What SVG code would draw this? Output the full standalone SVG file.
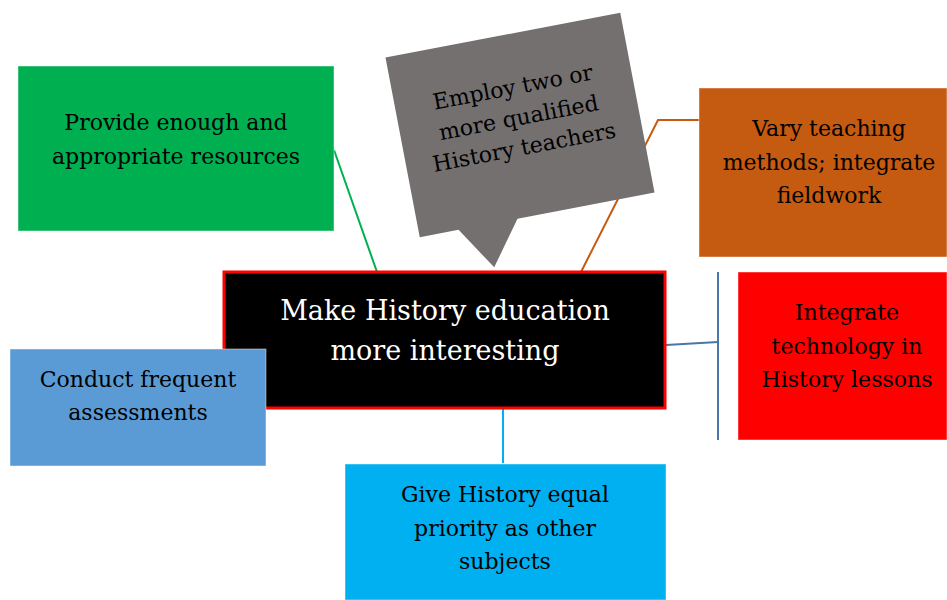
<svg xmlns="http://www.w3.org/2000/svg" width="947" height="600" viewBox="0 0 947 600">
  <style>
    .lbl { font-family: "DejaVu Serif", "Liberation Serif", serif; font-size: 22px; fill: #000; text-anchor: middle; }
    .main { font-family: "DejaVu Serif", "Liberation Serif", serif; font-size: 27px; fill: #fff; text-anchor: middle; }
    .box { stroke: #ffffff; stroke-opacity: 0.45; stroke-width: 1; }
    .link { fill: none; stroke-width: 2; }
  </style>
  <rect width="947" height="600" fill="#fff"/>

  <!-- connectors -->
  <g id="connectors">
    <line class="link" x1="334" y1="150" x2="377" y2="272" stroke="#00B050"/>
    <polyline class="link" points="581,272 658,120 699,120" stroke="#C55A11"/>
    <line class="link" x1="666" y1="345" x2="718" y2="342" stroke="#4A76A8"/>
    <line class="link" x1="718" y1="272" x2="718" y2="440" stroke="#4A76A8"/>
    <line class="link" x1="503" y1="408" x2="503" y2="463" stroke="#00B0F0"/>
  </g>

  <g id="resources">
    <rect class="box" x="18" y="66" width="316" height="165" fill="#00B050"/>
    <text class="lbl" x="176" y="130">Provide enough and</text>
    <text class="lbl" x="176" y="164">appropriate resources</text>
  </g>

  <g id="teachers" transform="translate(520,125) rotate(-10.8)">
    <path d="M-119.5,-91.5 H119.5 V91.5 H-20 L-52,135 L-80,91.5 H-119.5 Z" fill="#747070"/>
    <text class="lbl" x="0" y="-31">Employ two or</text>
    <text class="lbl" x="0" y="0">more qualified</text>
    <text class="lbl" x="0" y="30">History teachers</text>
  </g>

  <g id="methods">
    <rect class="box" x="699" y="88" width="248" height="169" fill="#C55A11"/>
    <text class="lbl" x="829" y="136">Vary teaching</text>
    <text class="lbl" x="829" y="170">methods; integrate</text>
    <text class="lbl" x="829" y="203">fieldwork</text>
  </g>

  <g id="center">
    <rect x="224" y="272" width="441" height="136" fill="#000" stroke="#FF0000" stroke-width="3"/>
    <text class="main" x="445" y="320">Make History education</text>
    <text class="main" x="445" y="360">more interesting</text>
  </g>

  <g id="technology">
    <rect class="box" x="738" y="272" width="209" height="168" fill="#FF0000"/>
    <text class="lbl" x="847" y="320">Integrate</text>
    <text class="lbl" x="847" y="354">technology in</text>
    <text class="lbl" x="847" y="387">History lessons</text>
  </g>

  <g id="assessments">
    <rect class="box" x="10" y="349" width="256" height="117" fill="#5B9BD5"/>
    <text class="lbl" x="138" y="387">Conduct frequent</text>
    <text class="lbl" x="138" y="420">assessments</text>
  </g>

  <g id="priority">
    <rect class="box" x="345" y="464" width="321" height="136" fill="#00B0F0"/>
    <text class="lbl" x="505" y="502">Give History equal</text>
    <text class="lbl" x="505" y="536">priority as other</text>
    <text class="lbl" x="505" y="569">subjects</text>
  </g>
</svg>
